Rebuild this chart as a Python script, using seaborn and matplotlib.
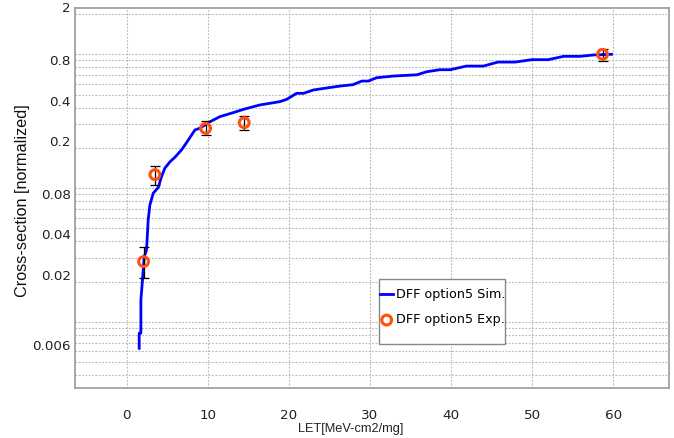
import numpy as np
import pandas as pd
import matplotlib
matplotlib.use("Agg")
import matplotlib.pyplot as plt
import matplotlib.transforms as mtransforms
from matplotlib.patches import Rectangle
from matplotlib.ticker import FixedLocator, FixedFormatter, LogLocator, NullFormatter
import seaborn as sns

# ---- data ----
sim_let = [1.52, 1.52, 1.73, 1.73, 1.93, 2.14, 2.43, 2.63, 2.84, 3.25, 3.87, 4.28, 4.69,
           5.31, 5.93, 6.75, 7.44, 8.40, 9.0, 10.25, 11.48, 13.1, 14.4, 16.4, 18.9, 19.7,
           20.95, 21.8, 23.0, 24.9, 26.3, 27.9, 29.0, 29.8, 30.8, 32.9, 35.8, 37.0, 38.6,
           39.9, 41.9, 44.0, 45.8, 47.9, 50.0, 52.0, 53.9, 55.9, 57.6, 59.8]
sim_xs = [0.00634, 0.00822, 0.00822, 0.0146, 0.0206, 0.0307, 0.0344, 0.0577, 0.0748,
          0.0914, 0.101, 0.122, 0.141, 0.157, 0.170, 0.193, 0.222, 0.272, 0.280, 0.313,
          0.342, 0.366, 0.388, 0.418, 0.443, 0.46, 0.511, 0.511, 0.541, 0.563, 0.579,
          0.593, 0.631, 0.631, 0.668, 0.688, 0.703, 0.741, 0.767, 0.767, 0.817, 0.817,
          0.875, 0.875, 0.912, 0.912, 0.966, 0.966, 0.989, 1.0]

exp_let = [2.06, 3.46, 9.72, 14.48, 58.7]
exp_xs = [0.0282, 0.126, 0.280, 0.308, 1.0]
exp_lo = [0.0211, 0.105, 0.251, 0.272, 0.89]
exp_hi = [0.0365, 0.147, 0.317, 0.347, 1.09]

y_ticks = [2, 0.8, 0.4, 0.2, 0.08, 0.04, 0.02, 0.006]
y_tick_labels = ["2", "0.8", "0.4", "0.2", "0.08", "0.04", "0.02", "0.006"]
x_ticks = [0, 10, 20, 30, 40, 50, 60]

sim_label = "DFF option5 Sim."
exp_label = "DFF option5 Exp."

# ---- figure ----
fig = plt.figure(figsize=(6.74, 4.38), dpi=100)
ax = fig.add_axes([75 / 674, 50 / 438, 594 / 674, 380 / 438])

sim_df = pd.DataFrame({"LET": sim_let, "xs": sim_xs})
exp_df = pd.DataFrame({"LET": exp_let, "xs": exp_xs})

ax.set_yscale("log")

yerr = np.array([np.array(exp_xs) - np.array(exp_lo), np.array(exp_hi) - np.array(exp_xs)])
ax.errorbar(exp_let, exp_xs, yerr=yerr, fmt="none", ecolor="black", elinewidth=0.9,
            capsize=3.5, capthick=0.9, zorder=3)

sns.lineplot(data=sim_df, x="LET", y="xs", sort=False, estimator=None, color="#0000ff",
             linewidth=2, label=sim_label, ax=ax, zorder=2)
sns.scatterplot(data=exp_df, x="LET", y="xs", marker="o", s=50, facecolors="none",
                edgecolor="#ff5010", linewidth=2.2, label=exp_label, ax=ax, zorder=4)

ax.set_xlim(-6.4, 66.9)
ax.set_ylim(0.0032, 2.22)

ax.xaxis.set_major_locator(FixedLocator(x_ticks))
ax.yaxis.set_major_locator(FixedLocator(y_ticks))
ax.yaxis.set_major_formatter(FixedFormatter(y_tick_labels))
ax.yaxis.set_minor_locator(LogLocator(base=10, subs=np.arange(1, 10), numticks=20))
ax.yaxis.set_minor_formatter(NullFormatter())

ax.grid(True, which="both", axis="y", color="#b4b4b4", linestyle=(0, (1.5, 1.5)), linewidth=0.8)
ax.grid(True, which="major", axis="x", color="#b4b4b4", linestyle=(0, (1.5, 1.5)), linewidth=0.8)
ax.set_axisbelow(True)

ax.tick_params(axis="both", which="both", length=0, labelsize=9.7, colors="#222222")
ax.tick_params(axis="x", pad=15)
ax.tick_params(axis="y", pad=3)

for sp in ax.spines.values():
    sp.set_color("#999999")
    sp.set_linewidth(1.2)

offset = mtransforms.ScaledTranslation(0, 5 / 72, fig.dpi_scale_trans)
for lab in ax.get_yticklabels():
    lab.set_transform(lab.get_transform() + offset)

ax.set_xlabel("LET[MeV-cm2/mg]", family="Liberation Sans", fontsize=9.2, color="#222222")
ax.xaxis.set_label_coords((351 - 75) / 594, (388 - 429) / 380, transform=ax.transAxes)
ax.xaxis.label.set_va("center")
ax.set_ylabel("Cross-section [normalized]", family="Liberation Sans", fontsize=11.7, color="#111111")
ax.yaxis.set_label_coords((23 - 75) / 594, (388 - 201) / 380, transform=ax.transAxes)
ax.yaxis.label.set_va("center")

# legend box
rect = Rectangle((379 / 674, 1 - 344 / 438), 126 / 674, 65 / 438, transform=fig.transFigure,
                 facecolor="white", edgecolor="#888888", linewidth=1.0, zorder=5, clip_on=False)
ax.add_patch(rect)
leg = ax.legend(loc="upper left", bbox_to_anchor=(379 / 674, 1 - 287 / 438),
                bbox_transform=fig.transFigure, frameon=False, fontsize=9.2,
                handlelength=1.0, handletextpad=0.2, borderpad=0.1, borderaxespad=0,
                labelspacing=0.95)
leg.set_zorder(6)

fig.savefig("out.png", dpi=100)
